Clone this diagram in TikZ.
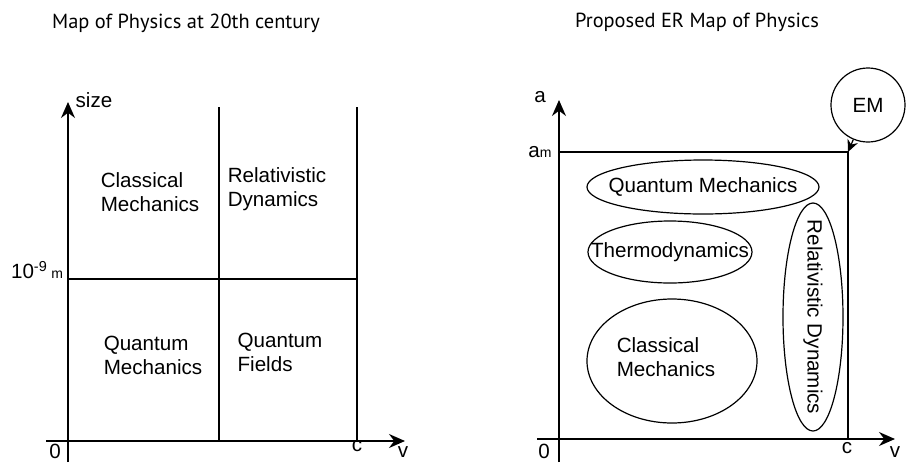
\documentclass[tikz,border=0pt]{standalone}
\usepackage{fontspec}
\setmainfont{Liberation Sans}
\newfontfamily\titlefont{PT Sans}
\usetikzlibrary{arrows.meta,shapes.geometric}
\tikzset {
  axis style/.style = {
    line width=0.8pt,
    -{Stealth[length=8pt,width=7pt]}
  },
  grid style/.style = {line width=0.8pt},
  field style/.style = {
    draw,
    ellipse,
    line width=0.6pt,
    inner sep=0pt
  },
  region text/.style = {align=left, inner sep=0pt},
  title text/.style = {font=\titlefont\fontsize{10.2}{12}\selectfont}
}

\begin{document}
\begin{tikzpicture}[x=0.5pt, y=-0.5pt, font=\fontsize{10.3}{12}\selectfont]
\useasboundingbox (0,0) rectangle (907,462);

% --- Left map ---
\node[title text] (titleL) at (186,23) {Map of Physics at 20th century};

\coordinate (L0)    at ( 68,441);
\coordinate (Lbot)  at ( 68,462);
\coordinate (Ltop)  at ( 68,102);
\coordinate (Lleft) at ( 46,441);
\coordinate (Lend)  at (405,441);
\coordinate (Lmid0) at (219,441);
\coordinate (Lmid1) at (219,107);
\coordinate (Lc0)   at (357,441);
\coordinate (Lc1)   at (357,107);
\coordinate (Lh0)   at ( 68,279);
\coordinate (Lh1)   at (357,279);

\draw[axis style] (Lbot) -- (Ltop);
\draw[axis style] (Lleft) -- (Lend);
\draw[grid style] (Lmid0) -- (Lmid1);
\draw[grid style] (Lc0) -- (Lc1);
\draw[grid style] (Lh0) -- (Lh1);

\node (sizeL) at (94,100) {size};
\node (zeroL) at (55,451) {0};
\node (cL)    at (357,446) {c};
\node (vL)    at (403,452) {v};
\node (tenL)  at (37,270) {10\textsuperscript{-9}\,{\scriptsize m}};

\node[region text] (cmL) at (150,192) {Classical\\Mechanics};
\node[region text] (rdL) at (277,189) {Relativistic\\Dynamics};
\node[region text] (qmL) at (153,355) {Quantum\\Mechanics};
\node[region text] (qfL) at (280,352) {Quantum\\Fields};

% --- Right map ---
\node[title text] (titleR) at (697,22) {Proposed ER Map of Physics};

\coordinate (R0)    at (559,439);
\coordinate (Rbot)  at (559,462);
\coordinate (Rtop)  at (559,100);
\coordinate (Rleft) at (537,439);
\coordinate (Rend)  at (895,439);
\coordinate (Ram)   at (559,152);
\coordinate (Rcorn) at (848,152);
\coordinate (Rc0)   at (848,439);

\draw[axis style] (Rbot) -- (Rtop);
\draw[axis style] (Rleft) -- (Rend);
\draw[grid style] (Ram) -- (Rcorn) -- (Rc0);

\node (aR)    at (540,97)  {a};
\node (amR)   at (540,152) {a{\scriptsize m}};
\node (zeroR) at (544,451) {0};
\node (cR)    at (847,448) {c};
\node (vR)    at (895,452) {v};

% ellipses first, their texts on top
\node[field style, minimum width=116pt, minimum height=27pt] (qmR) at (703,187) {};
\node[field style, minimum width=82pt, minimum height=31pt]  (thR) at (670,252) {};
\node[field style, minimum width=85pt, minimum height=62pt]  (cmR) at (672,361) {};
\node[field style, minimum width=30pt, minimum height=114pt] (rdR) at (813,317) {};

\node at (qmR.center) {Quantum Mechanics};
\node at (thR.center) {Thermodynamics};
\node[region text] at ([xshift=-3pt,yshift=2pt]cmR.center) {Classical\\Mechanics};
\node[rotate=-90] at (rdR.center) {Relativistic Dynamics};

\node[field style, circle, minimum size=37pt] (em) at (868,105) {EM};
\draw[line width=0.6pt, -{Stealth[length=6pt,width=5.5pt]}] (em) -- (Rcorn);

\end{tikzpicture}
\end{document}
